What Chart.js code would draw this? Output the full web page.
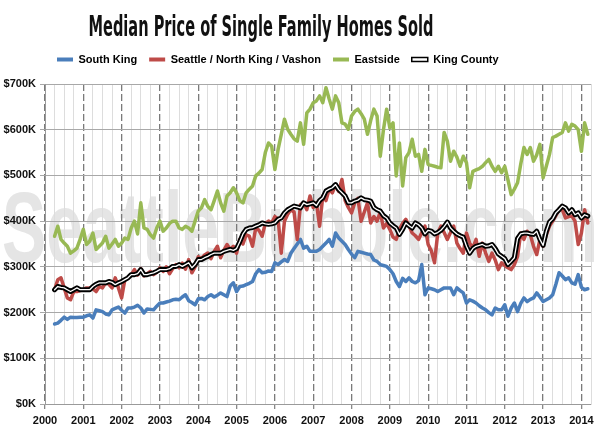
<!DOCTYPE html>
<html>
<head>
<meta charset="utf-8">
<script src="https://cdn.jsdelivr.net/npm/chart.js@4.4.1/dist/chart.umd.min.js"></script>
<style>
html,body{margin:0;padding:0;background:#fff;}
#wrap{width:600px;height:435px;}
</style>
</head>
<body>
<div id="wrap"><canvas id="c" width="600" height="435"></canvas></div>
<script>
const FONT = "'Liberation Sans',Arial,sans-serif";
const TITLE_FONT = "'DejaVu Sans Condensed','Liberation Sans',sans-serif";
const chartTitle = 'Median Price of Single Family Homes Sold';
const watermarkText = 'SeattleBubble.com';
const seriesNames = ['South King', 'Seattle / North King / Vashon', 'Eastside', 'King County'];
const seriesColors = ['#4a7ebb', '#be4b48', '#98b954', '#000000'];
const firstYear = 2000, firstMonth = 4;      // first month plotted: April 2000
const xAxisMax = 2014.25;
const yearLabels = [2000,2001,2002,2003,2004,2005,2006,2007,2008,2009,2010,2011,2012,2013,2014];
const yTickValues = [0,100,200,300,400,500,600,700];   // $K

// monthly medians, $K, Apr 2000 .. Mar 2014
const southKing = [
175,177,183,190,185,190,189,189,190,190,
193,195,188,206,204,202,197,195,206,209,
212,205,199,210,210,212,216,210,199,208,
207,206,214,221,221,223,225,228,229,228,
234,239,226,222,217,230,231,228,235,239,
234,238,243,239,235,258,265,246,257,258,
261,264,268,285,294,287,288,291,290,309,
305,311,316,312,330,340,350,360,341,345,
334,334,334,338,345,352,360,345,374,363,
356,349,338,328,320,334,332,330,328,327,
315,312,305,303,301,294,285,268,257,275,
268,276,268,265,270,305,239,254,252,250,
246,250,254,254,254,239,254,248,243,221,
228,225,221,215,210,206,200,195,210,206,
206,217,192,210,221,202,220,232,224,229,
232,243,234,224,228,232,239,262,287,280,
272,276,265,262,283,255,250,252];
const seattle = [
250,272,276,254,232,228,246,246,248,250,
254,254,252,246,257,254,265,262,254,276,
254,232,272,276,283,294,282,296,280,285,
290,283,288,298,290,300,285,296,305,298,
308,295,316,287,300,322,318,326,330,318,
334,345,320,336,349,338,345,330,360,350,
370,367,345,385,380,367,395,400,396,410,
405,330,400,415,425,420,360,436,440,425,
455,430,440,389,455,445,470,462,480,465,
491,445,430,418,440,450,400,420,440,396,
410,400,420,385,395,382,365,360,382,395,
404,390,374,368,360,375,389,349,335,309,
374,389,375,360,375,389,352,340,330,374,
352,341,360,323,352,330,312,330,315,294,
309,303,298,294,305,323,374,360,378,370,
345,327,360,345,370,389,400,412,425,425,
407,410,411,400,349,374,425,396];
const eastside = [
367,389,360,352,345,330,335,341,360,382,
349,356,374,338,345,352,367,341,350,360,
345,352,363,360,385,400,372,440,385,382,
370,363,385,400,378,385,395,400,400,385,
382,389,385,378,400,422,429,447,432,425,
445,466,440,422,455,462,473,462,445,440,
462,470,477,499,505,513,550,571,564,513,
557,590,623,601,590,580,575,615,568,637,
645,659,663,674,659,692,667,645,674,659,
615,612,601,630,640,645,635,623,590,620,
645,630,542,600,645,604,615,499,571,477,
539,550,579,542,546,509,557,524,522,520,
518,517,594,575,531,553,540,520,542,528,
473,509,512,515,520,528,535,520,509,520,
506,520,490,458,470,484,525,561,546,561,
531,545,568,495,520,546,583,586,590,594,
615,597,612,608,600,553,615,590];
const kingCounty = [
250,257,255,254,250,246,250,254,250,250,
250,250,257,262,265,265,265,268,266,261,
265,268,272,276,283,283,285,294,283,283,
285,287,290,294,294,294,296,301,301,305,
301,305,309,298,305,316,316,320,323,327,
330,330,330,334,336,338,336,340,355,372,
382,385,386,389,392,396,394,393,394,396,
404,407,418,425,429,433,431,429,440,436,
438,440,434,445,451,466,470,473,480,469,
462,455,440,440,444,446,451,447,446,444,
430,425,422,412,407,396,390,385,371,382,
396,390,385,396,392,385,372,380,378,372,
375,380,388,398,385,378,372,368,365,345,
330,340,345,347,349,345,346,349,340,328,
323,318,305,312,320,362,372,374,374,372,
371,378,360,347,378,398,405,418,425,433,
429,418,425,414,418,407,414,411];

const monthPos = southKing.map((_, i) => firstYear + (firstMonth - 1 + i) / 12);
const toPoints = arr => arr.map((v, i) => ({x: monthPos[i], y: v}));
const quarterTicks = [];
for (let q = 0; q <= (xAxisMax - yearLabels[0]) * 4 + 1e-9; q++) quarterTicks.push(yearLabels[0] + q / 4);
const isYear = v => Math.abs(v - Math.round(v)) < 1e-6;
const yearTick = c => !!(c && c.tick && isYear(c.tick.value));

const legendItems = [
  {text: seriesNames[0], fillStyle: seriesColors[0], strokeStyle: seriesColors[0], lineWidth: 0, hidden: false, datasetIndex: 3},
  {text: seriesNames[1], fillStyle: seriesColors[1], strokeStyle: seriesColors[1], lineWidth: 0, hidden: false, datasetIndex: 2},
  {text: seriesNames[2], fillStyle: seriesColors[2], strokeStyle: seriesColors[2], lineWidth: 0, hidden: false, datasetIndex: 4},
  {text: seriesNames[3], fillStyle: '#ffffff', strokeStyle: '#000000', lineWidth: 1.5, hidden: false, datasetIndex: 1}
];

const decorPlugin = {
  id: 'decor',
  beforeDraw(chart) {
    const ctx = chart.ctx;
    ctx.save();
    ctx.fillStyle = '#ffffff';
    ctx.fillRect(0, 0, chart.width, chart.height);
    ctx.font = "bold 100px 'Liberation Sans',sans-serif";
    ctx.fillStyle = '#e5e5e5';
    ctx.textAlign = 'left';
    ctx.textBaseline = 'alphabetic';
    ctx.fillText(watermarkText, 2, 262, 596);
    ctx.font = "bold 29px " + TITLE_FONT;
    ctx.fillStyle = '#111111';
    ctx.textAlign = 'center';
    ctx.fillText(chartTitle, 261, 36, 345);
    ctx.restore();
  }
};

const lineDs = (label, data, color, width, order) => ({
  label, data: toPoints(data), borderColor: color, backgroundColor: color,
  borderWidth: width, order, xAxisID: 'x', yAxisID: 'y'
});

new Chart(document.getElementById('c'), {
  type: 'line',
  data: {
    datasets: [
      lineDs(seriesNames[3], kingCounty, '#ffffff', 1.3, 0),
      lineDs(seriesNames[3], kingCounty, seriesColors[3], 5, 1),
      lineDs(seriesNames[1], seattle, seriesColors[1], 3.5, 2),
      lineDs(seriesNames[0], southKing, seriesColors[0], 3.5, 3),
      lineDs(seriesNames[2], eastside, seriesColors[2], 3.5, 4)
    ]
  },
  options: {
    responsive: false,
    animation: false,
    devicePixelRatio: 1,
    layout: {padding: {top: 42, right: 9, bottom: 0, left: 0}},
    elements: {
      point: {radius: 0, hoverRadius: 0},
      line: {tension: 0, borderJoinStyle: 'round', borderCapStyle: 'round', fill: false}
    },
    plugins: {
      title: {display: false},
      tooltip: {enabled: false},
      legend: {
        display: true, position: 'top', align: 'start', fullSize: false,
        labels: {
          boxWidth: 16, boxHeight: 4, padding: 12, color: '#111111',
          font: {family: FONT, size: 11, weight: 'bold'},
          generateLabels: () => legendItems
        }
      }
    },
    scales: {
      x: {
        type: 'linear', axis: 'x', position: 'bottom', min: yearLabels[0], max: xAxisMax,
        afterBuildTicks: s => { s.ticks = quarterTicks.map(v => ({value: v})); },
        afterFit: s => { s.height = 31; },
        ticks: {
          autoSkip: false, maxRotation: 0, minRotation: 0, padding: 5, color: '#111111',
          font: {family: FONT, size: 11, weight: 'bold'},
          callback: v => isYear(v) ? String(Math.round(v)) : ''
        },
        grid: {
          color: c => yearTick(c) ? '#7a7a7a' : '#dddddd',
          lineWidth: c => yearTick(c) ? 1.3 : 1,
          tickLength: 5,
          tickColor: c => yearTick(c) ? '#888888' : 'rgba(0,0,0,0)'
        },
        border: {color: '#9a9a9a', width: 1, dash: c => yearTick(c) ? [7, 3] : []}
      },
      top: {
        type: 'linear', axis: 'x', position: 'top', display: true,
        ticks: {display: false}, grid: {display: false, drawTicks: false}, border: {display: false},
        afterFit: s => { s.height = 9; }
      },
      y: {
        type: 'linear', min: yTickValues[0], max: yTickValues[yTickValues.length - 1],
        afterBuildTicks: s => { s.ticks = yTickValues.map(v => ({value: v})); },
        afterFit: s => { s.width = 45; },
        ticks: {
          padding: 4, color: '#111111', font: {family: FONT, size: 11, weight: 'bold'},
          callback: v => '$' + v + 'K'
        },
        grid: {color: '#a8a8a8', tickLength: 5, tickColor: '#a8a8a8'},
        border: {color: '#9a9a9a'}
      }
    }
  },
  plugins: [decorPlugin]
});
</script>
</body>
</html>
